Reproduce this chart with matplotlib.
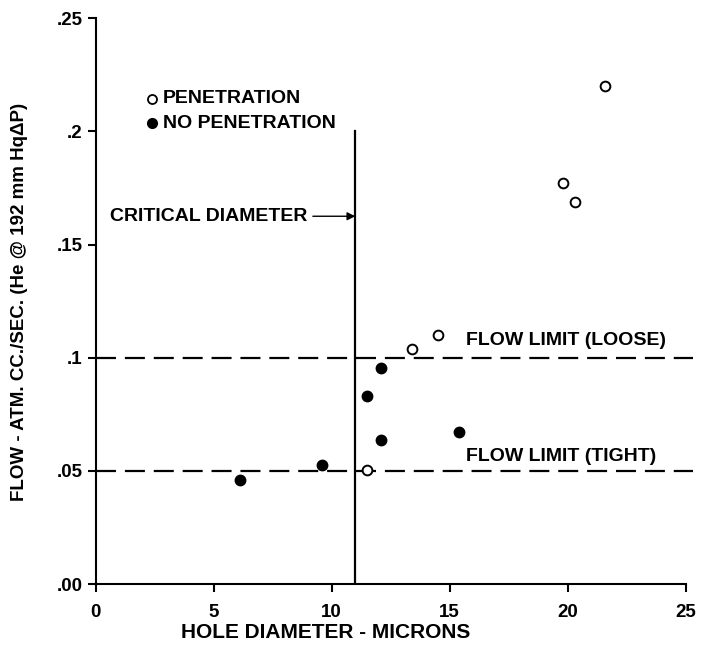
import matplotlib
matplotlib.use('Agg')
import matplotlib.pyplot as plt

plt.rcParams['font.family'] = ['Liberation Sans', 'DejaVu Sans']
plt.rcParams['font.weight'] = 'bold'

# open circles: penetration
pen_x = [11.5, 13.4, 14.5, 19.8, 20.3, 21.6]
pen_y = [0.0503, 0.104, 0.110, 0.177, 0.169, 0.220]
# filled circles: no penetration
nopen_x = [6.1, 9.6, 11.5, 12.1, 12.1, 15.4]
nopen_y = [0.046, 0.0527, 0.083, 0.0955, 0.0635, 0.067]

critical_d = 11
flow_loose = 0.1
flow_tight = 0.05

xticks = [0, 5, 10, 15, 20, 25]
yticks = [0, 0.05, 0.1, 0.15, 0.2, 0.25]
ytick_labels = ['.00', '.05', '.1', '.15', '.2', '.25']

fig = plt.figure(figsize=(7.04, 6.49), dpi=100)
ax = fig.add_axes([0.136, 0.100, 0.838, 0.872])

ax.set_xlim(0, 25)
ax.set_ylim(0, 0.25)
ax.spines['top'].set_visible(False)
ax.spines['right'].set_visible(False)
ax.spines['left'].set_linewidth(1.5)
ax.spines['bottom'].set_linewidth(1.5)
ax.set_xticks(xticks)
ax.set_yticks(yticks)
ax.set_yticklabels(ytick_labels)
ax.tick_params(axis='both', direction='out', length=6, width=1.5, labelsize=13.5)
ax.tick_params(axis='x', pad=8)

# limits
ax.plot([0, 25.3], [flow_loose, flow_loose], color='black', lw=1.6,
        dashes=(9, 4), clip_on=False)
ax.plot([0, 25.3], [flow_tight, flow_tight], color='black', lw=1.6,
        dashes=(9, 4), clip_on=False)
ax.plot([critical_d, critical_d], [0, 0.2], color='black', lw=1.6)

ax.plot(pen_x, pen_y, 'o', mfc='white', mec='black', mew=1.4, ms=7, ls='none')
ax.plot(nopen_x, nopen_y, 'o', color='black', ms=7.5, ls='none')

# legend drawn by hand
ax.plot([2.4], [0.2145], 'o', mfc='white', mec='black', mew=1.3, ms=6.5)
ax.plot([2.4], [0.2035], 'o', color='black', ms=7)
ax.text(2.85, 0.2145, 'PENETRATION', fontsize=14, va='center')
ax.text(2.85, 0.2035, 'NO PENETRATION', fontsize=14, va='center')

ax.text(0.6, 0.1625, 'CRITICAL DIAMETER', fontsize=14, va='center')
ax.annotate('', xy=(critical_d, 0.1625), xytext=(9.2, 0.1625),
            arrowprops=dict(arrowstyle='-|>', color='black', lw=1.0,
                            mutation_scale=12, shrinkA=0, shrinkB=0))

ax.text(15.7, 0.1075, 'FLOW LIMIT (LOOSE)', fontsize=14, va='center')
ax.text(15.7, 0.0565, 'FLOW LIMIT (TIGHT)', fontsize=14, va='center')

fig.text(0.027, 0.535, 'FLOW - ATM. CC./SEC. (He @ 192 mm HqΔP)', fontsize=13.5,
         rotation=90, ha='center', va='center', fontweight='bold')
fig.text(0.462, 0.025, 'HOLE DIAMETER - MICRONS', fontsize=15,
         ha='center', va='center', fontweight='bold')

fig.savefig('out.png', dpi=100)
